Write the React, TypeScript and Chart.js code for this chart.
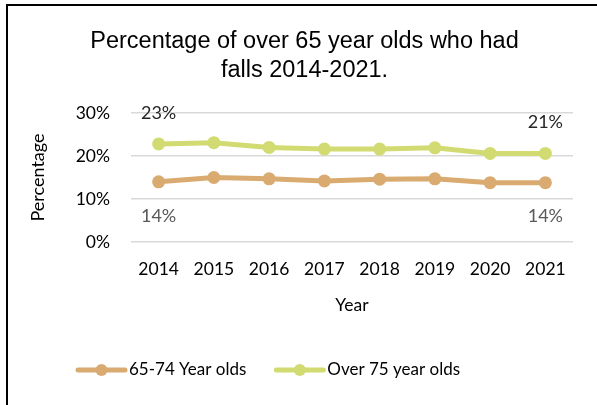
import React, { useEffect, useRef } from 'react';
import { Chart, registerables } from 'chart.js';

Chart.register(...registerables);

const years = ['2014', '2015', '2016', '2017', '2018', '2019', '2020', '2021'];
const age65to74 = [14.0, 15.0, 14.7, 14.2, 14.6, 14.7, 13.8, 13.8];
const over75 = [22.8, 23.1, 22.0, 21.6, 21.6, 21.9, 20.6, 20.6];
const seriesNames = ['65-74 Year olds', 'Over 75 year olds'];
const labelledIndexes = [0, 7];
const titleLines = ['Percentage of over 65 year olds who had', 'falls 2014-2021.'];

const COL_A = '#D9AB70';
const COL_B = '#D2DB72';
const FONT = "Lato, 'Open Sans', sans-serif";
const TITLE_FONT = "'Liberation Sans', Arial, sans-serif";

const titlePlugin = {
  id: 'customTitle',
  afterDraw(chart: any) {
    const ctx = chart.ctx;
    ctx.save();
    ctx.font = `23.5px ${TITLE_FONT}`;
    ctx.fillStyle = '#000';
    ctx.textAlign = 'center';
    ctx.textBaseline = 'alphabetic';
    titleLines.forEach((line, i) => {
      ctx.fillText(line, 304.5, 48 + i * 29);
    });
    ctx.restore();
  },
};

const legendPlugin = {
  id: 'customLegend',
  afterDraw(chart: any) {
    const ctx = chart.ctx;
    ctx.save();
    ctx.font = `17px ${FONT}`;
    ctx.textBaseline = 'middle';
    ctx.textAlign = 'left';
    const y = 370;
    let x = 78;
    chart.data.datasets.forEach((ds: any) => {
      const color = ds.borderColor;
      ctx.strokeStyle = color;
      ctx.lineWidth = 5;
      ctx.lineCap = 'round';
      ctx.beginPath();
      ctx.moveTo(x, y);
      ctx.lineTo(x + 47, y);
      ctx.stroke();
      ctx.fillStyle = color;
      ctx.beginPath();
      ctx.arc(x + 23.5, y, 6, 0, Math.PI * 2);
      ctx.fill();
      ctx.fillStyle = '#000';
      ctx.fillText(ds.label, x + 51, y);
      x += 51 + ctx.measureText(ds.label).width + 30;
    });
    ctx.restore();
  },
};

const dataLabelPlugin = {
  id: 'endLabels',
  afterDatasetsDraw(chart: any) {
    const ctx = chart.ctx;
    ctx.save();
    ctx.font = `18px ${FONT}`;
    ctx.textAlign = 'center';
    ctx.textBaseline = 'middle';
    chart.data.datasets.forEach((ds: any, di: number) => {
      const meta = chart.getDatasetMeta(di);
      labelledIndexes.forEach((i) => {
        const pt = meta.data[i];
        if (!pt) return;
        const v = Math.round(ds.data[i]) + '%';
        if (di === 1) {
          ctx.fillStyle = '#262626';
          ctx.fillText(v, pt.x, pt.y - 31);
        } else {
          ctx.fillStyle = '#595959';
          ctx.fillText(v, pt.x, pt.y + 34);
        }
      });
    });
    ctx.restore();
  },
};

export default function App() {
  const ref = useRef<HTMLCanvasElement>(null);
  useEffect(() => {
    const chart = new Chart(ref.current!, {
      type: 'line',
      data: {
        labels: years,
        datasets: [
          {
            label: seriesNames[0],
            data: age65to74,
            borderColor: COL_A,
            backgroundColor: COL_A,
            borderWidth: 5,
            pointRadius: 6.5,
            pointBackgroundColor: COL_A,
            pointBorderWidth: 0,
          },
          {
            label: seriesNames[1],
            data: over75,
            borderColor: COL_B,
            backgroundColor: COL_B,
            borderWidth: 5,
            pointRadius: 6.5,
            pointBackgroundColor: COL_B,
            pointBorderWidth: 0,
          },
        ],
      },
      options: {
        animation: false,
        responsive: false,
        layout: { padding: { top: 113, left: 26, right: 24, bottom: 89.5 } },
        scales: {
          x: {
            offset: true,
            grid: { display: false, drawTicks: false },
            border: { display: false },
            ticks: { color: '#000', font: { family: FONT, size: 17.5 }, padding: 17, maxRotation: 0 },
            title: {
              display: true,
              text: 'Year',
              color: '#000',
              font: { family: FONT, size: 17.5 },
              padding: { top: 13.5, bottom: 0 },
            },
            afterFit: (scale: any) => {
              scale.height = 73.5;
            },
          },
          y: {
            min: 0,
            max: 30,
            ticks: {
              stepSize: 10,
              color: '#000',
              font: { family: FONT, size: 17.5 },
              padding: 21,
              callback: (v: any) => v + '%',
            },
            grid: { color: '#D9D9D9', lineWidth: 1.5, drawTicks: false },
            border: { display: false },
            title: {
              display: true,
              text: 'Percentage',
              color: '#000',
              font: { family: FONT, size: 18 },
              padding: { top: 1, bottom: 25 },
            },
            afterFit: (scale: any) => {
              scale.width = 105;
            },
          },
        },
        plugins: {
          title: { display: false },
          legend: { display: false },
          tooltip: { enabled: false },
        },
      },
      plugins: [dataLabelPlugin, titlePlugin, legendPlugin],
    });
    return () => chart.destroy();
  }, []);
  return (
    <div style={{ position: 'fixed', left: 0, top: 0, width: 597, height: 405, background: '#fff' }}>
      <canvas ref={ref} width={597} height={405} style={{ position: 'absolute', left: 0, top: 0 }} />
      <div
        style={{
          position: 'absolute',
          left: 6,
          top: 4,
          width: 591,
          height: 401,
          borderLeft: '2px solid #000',
          borderTop: '2px solid #000',
          boxSizing: 'border-box',
          pointerEvents: 'none',
        }}
      />
    </div>
  );
}
